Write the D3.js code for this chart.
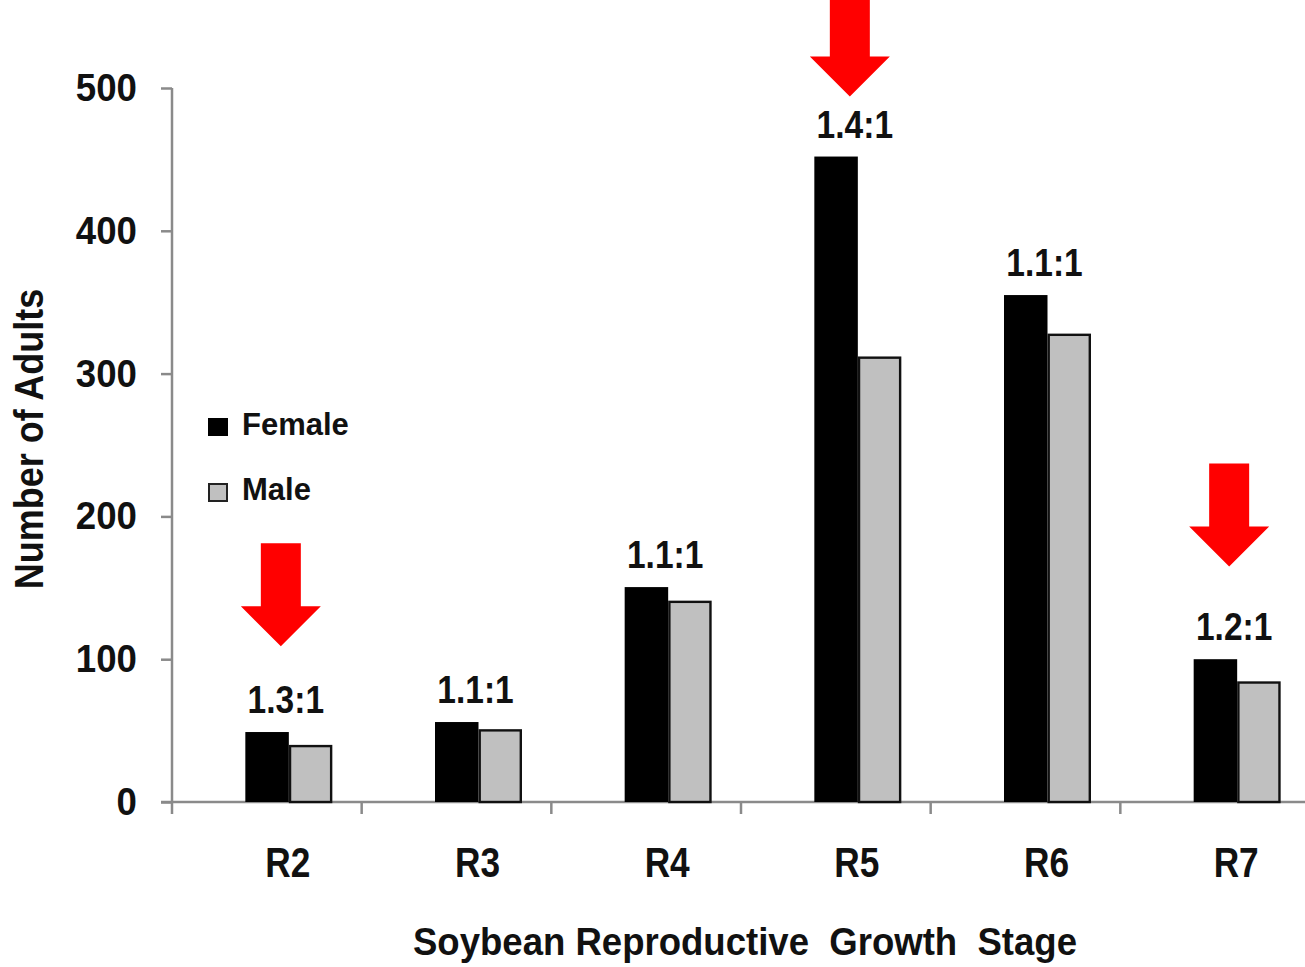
<!DOCTYPE html>
<html><head><meta charset="utf-8">
<script src="https://cdn.jsdelivr.net/npm/d3@7"></script>
<style>
html,body{margin:0;padding:0;background:#fff;}
text{font-family:"Liberation Sans",Arial,sans-serif;font-weight:bold;fill:#111;}
</style></head>
<body>
<svg id="chart" width="1305" height="967"></svg>
<script>
const stages = ["R2","R3","R4","R5","R6","R7"];
const female = [49, 56, 150.5, 452, 355, 100];
const male = [40, 51, 141, 312, 328, 84.5];
const ratios = ["1.3:1","1.1:1","1.1:1","1.4:1","1.1:1","1.2:1"];
const yTicks = [0,100,200,300,400,500];
const arrowStages = ["R2","R5","R7"];
const arrowTips = [109, 494, 165];
const seriesNames = ["Female","Male"];

const svg = d3.select("#chart");
const W = 1305;
const y = d3.scaleLinear().domain([0,500]).range([802,88]);
const x = d3.scaleBand().domain(stages).range([194,1332]).padding(0);
const bw = 43.5;
const cx = s => x(s) + x.bandwidth()/2;
const axisColor = "#8a8a8a";

function txt(str, tx, ty, size, sx, anchor, rot){
  return svg.append("text")
    .attr("transform", `translate(${tx},${ty}) rotate(${rot||0}) scale(${sx},1)`)
    .attr("text-anchor", anchor)
    .style("font-size", size+"px")
    .text(str);
}

// y axis
const yAxis = d3.axisLeft(y).tickValues(yTicks).tickSize(11).tickFormat("");
const gy = svg.append("g").attr("transform","translate(172,0)").call(yAxis);
gy.select(".domain").attr("stroke",axisColor).attr("stroke-width",2.5).attr("d","M0,"+y(500)+"V"+y(0));
gy.selectAll(".tick line").attr("stroke",axisColor).attr("stroke-width",2.5);
yTicks.forEach(v => txt(String(v), 137, y(v)+13, 39, 0.94, "end"));

// x axis line and ticks (ticks at group boundaries)
svg.append("line").attr("x1",161).attr("x2",W).attr("y1",y(0)).attr("y2",y(0))
  .attr("stroke",axisColor).attr("stroke-width",2.5);
svg.selectAll(".xt").data(stages).join("line").attr("class","xt")
  .attr("x1",d=>x(d)-22).attr("x2",d=>x(d)-22).attr("y1",y(0)).attr("y2",y(0)+12)
  .attr("stroke",axisColor).attr("stroke-width",2.5);

// bars
svg.selectAll(".fbar").data(stages).join("rect").attr("class","fbar")
  .attr("x",d=>cx(d)-bw).attr("width",bw)
  .attr("y",(d,i)=>y(female[i])).attr("height",(d,i)=>y(0)-y(female[i]))
  .attr("fill","#000");
svg.selectAll(".mbar").data(stages).join("rect").attr("class","mbar")
  .attr("x",d=>cx(d)+1.2).attr("width",bw-2.4)
  .attr("y",(d,i)=>y(male[i])+1.2).attr("height",(d,i)=>y(0)-y(male[i])-1.2)
  .attr("fill","#c0c0c0").attr("stroke","#111").attr("stroke-width",2.4);

// ratio labels
stages.forEach((s,i)=>{
  const top = y(Math.max(female[i], male[i]));
  txt(ratios[i], cx(s)-3, top-19, 39, 0.86, "middle");
});

// x tick labels
stages.forEach(s => txt(s, cx(s)-1, 877, 42, 0.84, "middle"));

// axis titles
txt("Number of Adults", 43, 439, 40, 0.9, "middle", -90);
svg.append("text").attr("x",745).attr("y",955).attr("text-anchor","middle")
  .attr("textLength",664).attr("lengthAdjust","spacingAndGlyphs")
  .style("font-size","38px").style("white-space","pre")
  .text("Soybean Reproductive  Growth  Stage");

// legend
svg.append("rect").attr("x",208).attr("y",418).attr("width",20).attr("height",18).attr("fill","#000");
svg.append("rect").attr("x",209).attr("y",484).attr("width",18).attr("height",17)
  .attr("fill","#c0c0c0").attr("stroke","#222").attr("stroke-width",2);
txt(seriesNames[0], 242, 435, 31, 1, "start");
txt(seriesNames[1], 242, 500, 31, 1, "start");

// red arrows
const arrow = (xc, tip) => {
  const sw=20, hw=40, hh=40, sl=63;
  return `M${xc-sw},${tip-hh-sl}H${xc+sw}V${tip-hh}H${xc+hw}L${xc},${tip}L${xc-hw},${tip-hh}H${xc-sw}Z`;
};
svg.selectAll(".arrow").data(arrowStages).join("path").attr("class","arrow")
  .attr("d",(d,i)=>arrow(cx(d)-8, y(arrowTips[i])))
  .attr("fill","#ff0000");
</script>
</body></html>
